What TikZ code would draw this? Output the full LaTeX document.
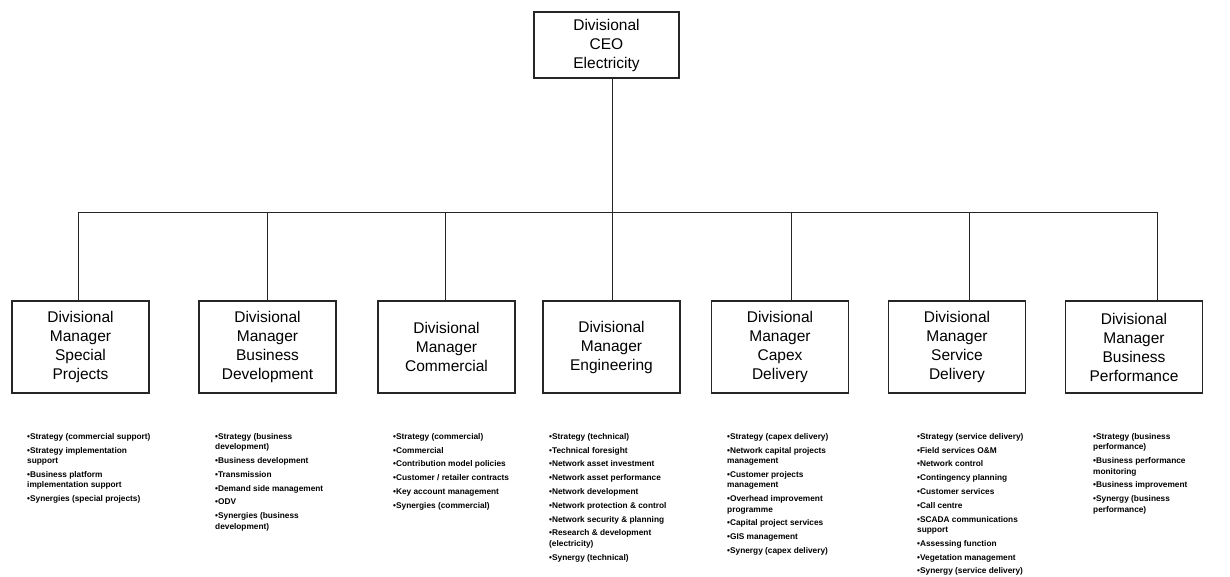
\documentclass[tikz,border=0pt]{standalone}
\usepackage{fontspec}
\setmainfont{Liberation Sans}
\begin{document}
\begin{tikzpicture}[x=1pt,y=-1pt,
  boxnode/.style={draw=black!85,line width=1.2pt,minimum width=137pt,minimum height=92pt,
    align=center,inner sep=2pt,font=\fontsize{15.5}{19}\selectfont},
  ceonode/.style={boxnode,minimum width=145pt,minimum height=66pt},
  listnode/.style={anchor=north west,align=left,inner sep=0pt,
    font=\fontsize{8.3}{10.5}\selectfont\bfseries},
  conn/.style={draw=black!85,line width=1pt}]
\useasboundingbox (0,0) rectangle (1230,576);
\node[ceonode] (ceo) at (606.5,45) {Divisional\\CEO\\Electricity};
\coordinate (j1) at (78,212);
\coordinate (j2) at (267,212);
\coordinate (j3) at (445,212);
\coordinate (j4) at (612,212);
\coordinate (j5) at (791,212);
\coordinate (j6) at (969,212);
\coordinate (j7) at (1157,212);
\node[boxnode] (m1) at (80.5,347) {Divisional\\Manager\\Special\\Projects};
\node[boxnode] (m2) at (267.5,347) {Divisional\\Manager\\Business\\Development};
\node[boxnode] (m3) at (446.5,347) {Divisional\\Manager\\Commercial};
\node[boxnode] (m4) at (611.5,347) {Divisional\\Manager\\Engineering};
\node[boxnode] (m5) at (780,347) {Divisional\\Manager\\Capex\\Delivery};
\node[boxnode] (m6) at (957,347) {Divisional\\Manager\\Service\\Delivery};
\node[boxnode] (m7) at (1134,347) {Divisional\\Manager\\Business\\Performance};
\draw[conn] (ceo.south -| j4) -- (j4);
\draw[conn] (j1) -- (j7);
\foreach \i in {1,...,7}{\draw[conn] (j\i) -- (j\i |- m\i.north);}
\node[listnode] (l1) at (27,433) {•Strategy (commercial support)\\[3.3pt]
•Strategy implementation\\support\\[3.3pt]
•Business platform\\implementation support\\[3.3pt]
•Synergies (special projects)};
\node[listnode] (l2) at (215,433) {•Strategy (business\\development)\\[3.3pt]
•Business development\\[3.3pt]
•Transmission\\[3.3pt]
•Demand side management\\[3.3pt]
•ODV\\[3.3pt]
•Synergies (business\\development)};
\node[listnode] (l3) at (393,433) {•Strategy (commercial)\\[3.3pt]
•Commercial\\[3.3pt]
•Contribution model policies\\[3.3pt]
•Customer / retailer contracts\\[3.3pt]
•Key account management\\[3.3pt]
•Synergies (commercial)};
\node[listnode] (l4) at (549,433) {•Strategy (technical)\\[3.3pt]
•Technical foresight\\[3.3pt]
•Network asset investment\\[3.3pt]
•Network asset performance\\[3.3pt]
•Network development\\[3.3pt]
•Network protection \& control\\[3.3pt]
•Network security \& planning\\[3.3pt]
•Research \& development\\(electricity)\\[3.3pt]
•Synergy (technical)};
\node[listnode] (l5) at (727,433) {•Strategy (capex delivery)\\[3.3pt]
•Network capital projects\\management\\[3.3pt]
•Customer projects\\management\\[3.3pt]
•Overhead improvement\\programme\\[3.3pt]
•Capital project services\\[3.3pt]
•GIS management\\[3.3pt]
•Synergy (capex delivery)};
\node[listnode] (l6) at (917,433) {•Strategy (service delivery)\\[3.3pt]
•Field services O\&M\\[3.3pt]
•Network control\\[3.3pt]
•Contingency planning\\[3.3pt]
•Customer services\\[3.3pt]
•Call centre\\[3.3pt]
•SCADA communications\\support\\[3.3pt]
•Assessing function\\[3.3pt]
•Vegetation management\\[3.3pt]
•Synergy (service delivery)};
\node[listnode] (l7) at (1093,433) {•Strategy (business\\performance)\\[3.3pt]
•Business performance\\monitoring\\[3.3pt]
•Business improvement\\[3.3pt]
•Synergy (business\\performance)};
\end{tikzpicture}
\end{document}
